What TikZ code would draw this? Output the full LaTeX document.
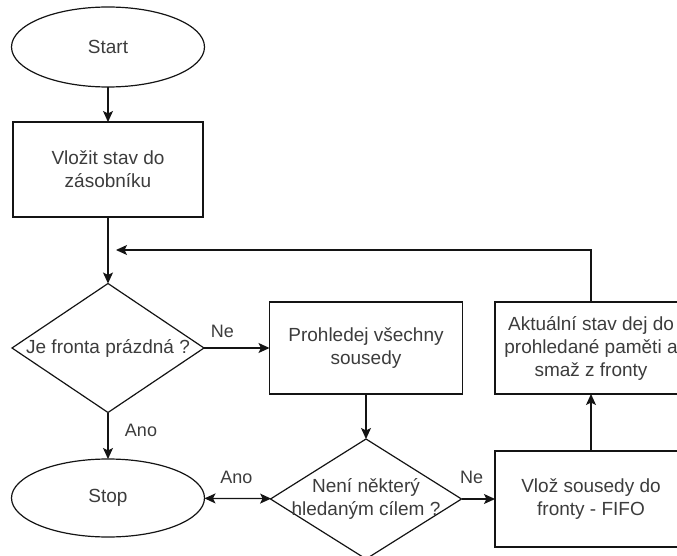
\documentclass[tikz,border=0pt]{standalone}
\usepackage{fontspec}
\setmainfont{Liberation Sans}
\usetikzlibrary{shapes.geometric,arrows.meta}
\definecolor{txt}{RGB}{60,60,60}
\definecolor{ln}{RGB}{20,20,20}
\begin{document}
\begin{tikzpicture}[x=1pt,y=-1pt,
  line width=1.2pt,
  every node/.style={font=\fontsize{19}{23}\selectfont, text=txt},
  term/.style={draw=ln, ellipse, inner sep=0pt, outer sep=0pt},
  proc/.style={draw=ln, rectangle, inner sep=0pt, outer sep=0pt, align=center},
  decision/.style={draw=ln, diamond, inner sep=0pt, outer sep=0pt},
  tip/.style={Stealth[length=11pt,width=10pt,inset=2.5pt]},
  flow/.style={draw=ln, -{Stealth[length=11pt,width=10pt,inset=2.5pt]}},
  biflow/.style={draw=ln, {Stealth[length=11pt,width=10pt,inset=2.5pt]}-{Stealth[length=11pt,width=10pt,inset=2.5pt]}},
  lbl/.style={font=\fontsize{18}{21}\selectfont}
]
\clip (0,0) rectangle (677,556);

% shapes
\node[term, minimum width=193pt, minimum height=80pt] (start) at (108,47) {Start};
\node[proc, minimum width=190pt, minimum height=95pt] (store) at (108,169.5) {Vložit stav do\\zásobníku};
\node[decision, minimum width=192pt, minimum height=129pt,
      label={center:Je fronta prázdná ?}] (empty) at (108,348) {};
\node[proc, minimum width=193pt, minimum height=92pt] (scan) at (366,348) {Prohledej všechny\\sousedy};
\node[proc, minimum width=192pt, minimum height=92pt] (visited) at (591,348) {Aktuální stav dej do\\prohledané paměti a\\smaž z fronty};
\node[term, minimum width=193pt, minimum height=78pt] (stop) at (108,498) {Stop};
\node[decision, minimum width=191pt, minimum height=120pt,
      label={[align=center]center:Není některý\\hledaným cílem ?}] (goal) at (366,499) {};
\node[proc, minimum width=192pt, minimum height=96pt] (enqueue) at (591,499) {Vlož sousedy do\\fronty - FIFO};

\coordinate (loop) at (116,250);

% connectors
\draw[flow] (start) -- (store);
\draw[flow] (store) -- (empty);
\draw[flow] (empty) -- (scan) node[lbl, pos=0.28, yshift=17pt] {Ne};
\draw[flow] (empty) -- (stop) node[lbl, pos=0.38, xshift=33pt] {Ano};
\draw[flow] (scan) -- (goal);
\draw[biflow] (stop) -- (goal) node[lbl, pos=0.48, yshift=21pt] {Ano};
\draw[flow] (goal) -- (enqueue) node[lbl, pos=0.3, yshift=22pt] {Ne};
\draw[flow] (enqueue) -- (visited);
\draw[flow] (visited.north) |- (loop);
\end{tikzpicture}
\end{document}
